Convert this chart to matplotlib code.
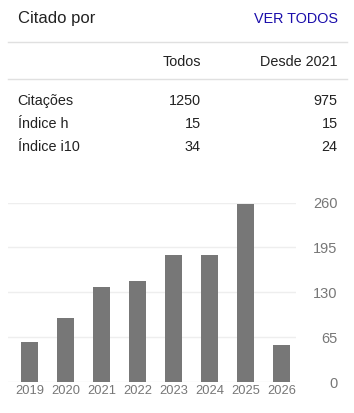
import matplotlib
matplotlib.use("Agg")
import matplotlib.pyplot as plt

plt.rcParams['font.family'] = ['Liberation Sans', 'DejaVu Sans']

years = ["2019", "2020", "2021", "2022", "2023", "2024", "2025", "2026"]
citations = [58, 93, 137, 147, 184, 184, 258, 54]
yticks = [0, 65, 130, 195, 260]

row_labels = ["Citações", "Índice h", "Índice i10"]
col_labels = ["Todos", "Desde 2021"]
todos = ["1250", "15", "34"]
desde = ["975", "15", "24"]

W, H = 354, 413
fig = plt.figure(figsize=(W / 100, H / 100), dpi=100)

def fx(x):
    return x / W

def fy(y):
    return 1 - y / H

txt = "#222222"
# header
fig.text(fx(17.7), fy(23.3), "Citado por", fontsize=12, color=txt, ha="left", va="baseline")
fig.text(fx(337.7), fy(23.3), "VER TODOS", fontsize=10.4, color="#1a0dab", ha="right", va="baseline")

for yl in (42.3, 79.3):
    fig.add_artist(plt.Line2D([fx(8), fx(346.5)], [fy(yl), fy(yl)], color="#e0e0e0", lw=1.0))

fig.text(fx(200.7), fy(66), col_labels[0], fontsize=10.4, color=txt, ha="right", va="baseline")
fig.text(fx(337.7), fy(66), col_labels[1], fontsize=10.4, color=txt, ha="right", va="baseline")

for i, (lab, a, b) in enumerate(zip(row_labels, todos, desde)):
    yb = [105, 128, 150.7][i]
    fig.text(fx(17.7), fy(yb), lab, fontsize=10.4, color=txt, ha="left", va="baseline")
    fig.text(fx(200.7), fy(yb), a, fontsize=10.4, color=txt, ha="right", va="baseline")
    fig.text(fx(337.7), fy(yb), b, fontsize=10.4, color=txt, ha="right", va="baseline")

# chart
left, right = 8, 296
top, bottom = 202.5, 382
ax = fig.add_axes([fx(left), 1 - bottom / H, (right - left) / W, (bottom - top) / H])
x = list(range(len(years)))
ax.bar(x, citations, width=17 / 36, color="#777777", zorder=3, clip_on=False)
ax.set_xlim(-(29.5 - left) / 36, len(years) - 1 + (right - 281.5) / 36)
ax.set_ylim(0, 260)
ax.set_yticks(yticks)
ax.set_yticklabels([str(t) for t in yticks])
ax.yaxis.tick_right()
ax.grid(axis="y", color="#eeeeee", lw=1.0, zorder=0)
ax.tick_params(axis="y", length=0, pad=(337.7 - right) * 0.72, labelsize=10.5, labelcolor="#777777")
for lbl in ax.get_yticklabels():
    lbl.set_horizontalalignment("right")
ax.set_xticks(x)
ax.set_xticklabels(years)
ax.tick_params(axis="x", length=0, pad=2.2, labelsize=9.3, labelcolor="#777777")
for s in ax.spines.values():
    s.set_visible(False)
ax.set_facecolor("none")

fig.savefig("out.png", dpi=100)
